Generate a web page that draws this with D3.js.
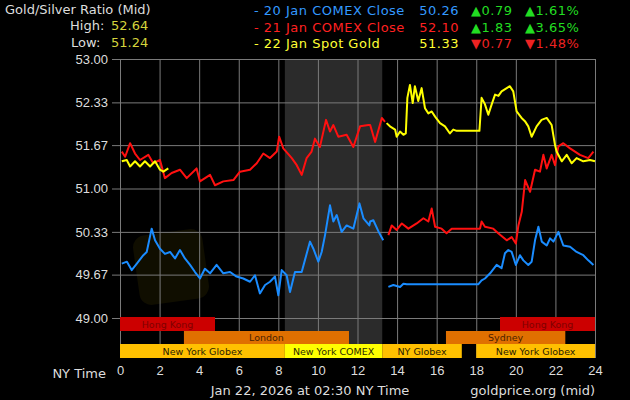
<!DOCTYPE html>
<html>
<head>
<meta charset="utf-8">
<script src="https://cdn.jsdelivr.net/npm/d3@7"></script>
<style>
  body { margin: 0; background: #000; }
  svg { display: block; font-family: "DejaVu Sans", Verdana, sans-serif; }
</style>
</head>
<body>
<div id="chart"></div>
<script>
// values, [hour, ratio], null = gap
var blueSeries = [[0.09,49.84],[0.35,49.87],[0.59,49.74],[0.85,49.84],[1.18,49.97],[1.35,50.02],[1.6,50.38],[1.77,50.20],[2.02,50.07],[2.27,49.99],[2.53,50.02],[2.78,49.92],[3.03,50.05],[3.28,49.92],[3.54,49.82],[3.79,49.71],[4.04,49.61],[4.29,49.76],[4.55,49.69],[4.88,49.82],[5.22,49.69],[5.56,49.71],[5.89,49.64],[6.23,49.61],[6.57,49.56],[6.82,49.66],[7.07,49.38],[7.33,49.51],[7.58,49.56],[7.83,49.64],[8.0,49.35],[8.17,49.74],[8.42,49.66],[8.59,49.40],[8.84,49.71],[9.18,49.71],[9.34,49.89],[9.6,50.18],[9.77,50.07],[10.02,49.87],[10.19,50.02],[10.36,50.28],[10.61,50.74],[10.78,50.49],[10.95,50.59],[11.2,50.33],[11.45,50.43],[11.79,50.38],[12.1,50.77],[12.3,50.54],[12.6,50.43],[12.64,50.49],[12.8,50.51],[13.07,50.33],[13.3,50.20],
  null,
  [13.56,49.48],[13.81,49.51],[14.15,49.48],[14.32,49.53],[14.49,49.52],[18.1,49.52],[18.27,49.58],[18.44,49.61],[18.7,49.69],[19.03,49.82],[19.28,49.77],[19.45,50.00],[19.62,50.05],[19.79,50.02],[20.0,49.82],[20.21,49.97],[20.38,49.89],[20.63,49.82],[20.8,49.87],[20.97,50.20],[21.14,50.41],[21.31,50.18],[21.56,50.12],[21.73,50.23],[21.9,50.18],[22.15,50.33],[22.4,50.12],[22.74,50.10],[23.07,50.02],[23.41,49.97],[23.66,49.89],[23.92,49.82]];

var redSeries = [[0.09,51.57],[0.26,51.49],[0.51,51.70],[0.76,51.54],[1.01,51.44],[1.43,51.52],[1.68,51.39],[2.02,51.44],[2.27,51.16],[2.61,51.24],[3.03,51.29],[3.37,51.16],[3.87,51.31],[4.04,51.11],[4.55,51.21],[4.8,51.05],[5.22,51.11],[5.73,51.13],[6.06,51.26],[6.57,51.29],[6.91,51.39],[7.24,51.54],[7.58,51.47],[7.92,51.57],[8.04,51.80],[8.25,51.62],[8.68,51.47],[8.93,51.36],[9.18,51.21],[9.43,51.47],[9.68,51.57],[9.85,51.77],[10.1,51.64],[10.41,52.06],[10.61,51.88],[10.78,51.98],[11.03,51.80],[11.45,51.83],[11.79,51.64],[12.13,51.96],[12.55,51.98],[12.64,51.98],[12.89,51.72],[13.23,52.09],[13.39,52.03],
  null,
  [13.56,50.28],[13.73,50.43],[13.98,50.36],[14.24,50.46],[14.57,50.38],[14.99,50.46],[15.33,50.54],[15.58,50.49],[15.75,50.69],[15.92,50.41],[16.25,50.38],[16.5,50.31],[16.76,50.38],[18.19,50.38],[18.27,50.49],[18.44,50.41],[18.86,50.38],[19.11,50.31],[19.54,50.20],[19.79,50.25],[20.0,50.15],[20.13,50.43],[20.3,50.64],[20.47,51.13],[20.72,50.95],[20.97,51.29],[21.22,51.26],[21.39,51.52],[21.56,51.31],[21.81,51.52],[21.98,51.36],[22.15,51.65],[22.4,51.70],[22.74,51.62],[23.24,51.52],[23.66,51.47],[23.92,51.57]];

var yellowSeries = [[0.09,51.42],[0.34,51.44],[0.51,51.34],[0.76,51.42],[1.01,51.34],[1.26,51.42],[1.52,51.34],[1.77,51.42],[2.02,51.29],[2.19,51.26],[2.44,51.31],
  null,
  [13.47,52.01],[13.64,51.96],[13.9,51.91],[13.98,51.80],[14.15,51.88],[14.32,51.83],[14.44,51.85],[14.52,52.40],[14.65,52.60],[14.79,52.32],[14.9,52.58],[15.07,52.35],[15.24,52.55],[15.41,52.24],[15.58,52.16],[15.75,52.19],[15.92,52.11],[16.17,52.01],[16.42,51.96],[16.67,51.85],[16.84,51.91],[17.01,51.89],[18.16,51.89],[18.27,52.40],[18.44,52.30],[18.61,52.14],[18.78,52.30],[18.95,52.45],[19.12,52.43],[19.28,52.50],[19.54,52.55],[19.7,52.58],[19.87,52.50],[20.04,52.19],[20.29,52.09],[20.46,52.04],[20.63,51.96],[20.8,51.80],[21.05,51.96],[21.3,52.06],[21.56,52.09],[21.81,51.98],[21.98,51.67],[22.06,51.57],[22.32,51.42],[22.57,51.52],[22.82,51.39],[23.07,51.47],[23.41,51.42],[23.75,51.44],[24.0,51.42]];

var yTicks = [49.00, 49.67, 50.33, 51.00, 51.67, 52.33, 53.00];
var xTicks = [0, 2, 4, 6, 8, 10, 12, 14, 16, 18, 20, 22, 24];

var comexShade = [8.33, 13.25];

var sessionNames = ["Hong Kong", "Hong Kong", "London", "Sydney", "New York Globex", "New York COMEX", "NY Globex", "New York Globex"];
var sessionStart = [0, 19.2, 3.23, 16.47, 0, 8.33, 13.25, 18.0];
var sessionEnd   = [4.8, 24, 11.57, 22.5, 8.33, 13.25, 17.27, 24];
var sessionRow   = [0, 0, 1, 1, 2, 3, 2, 2];

var legendLabels = ["- 20 Jan COMEX Close", "- 21 Jan COMEX Close", "- 22 Jan Spot Gold"];
var legendValues = ["50.26", "52.10", "51.33"];
var legendChange = ["\u25B20.79", "\u25B21.83", "\u25BC0.77"];
var legendPct    = ["\u25B21.61%", "\u25B23.65%", "\u25BC1.48%"];

var highValue = "52.64";
var lowValue = "51.24";

const W = 630, H = 400;
const svg = d3.select("#chart").append("svg").attr("width", W).attr("height", H);
svg.append("rect").attr("width", W).attr("height", H).attr("fill", "#000");

const x = d3.scaleLinear().domain([0, 24]).range([120, 595]);
const y = d3.scaleLinear().domain([49, 53]).range([318, 59]);
const plotBottom = 358;

// faint watermark logo
svg.append("rect")
  .attr("x", 136).attr("y", 232).attr("width", 70).attr("height", 70).attr("rx", 12)
  .attr("transform", "rotate(-8,171,267)")
  .attr("fill", "#100e00");

// comex shading
svg.append("rect")
  .attr("x", x(comexShade[0])).attr("y", y(53))
  .attr("width", x(comexShade[1]) - x(comexShade[0]))
  .attr("height", plotBottom - y(53))
  .attr("fill", "#2b2b2b");

// y grid + labels
const yAxis = d3.axisLeft(y).tickValues(yTicks).tickFormat(d3.format(".2f"))
  .tickSize(x(24) - 112).tickPadding(4);
const gy = svg.append("g").attr("transform", `translate(${x(24)},0)`).call(yAxis);
gy.select(".domain").remove();
gy.selectAll("line").attr("stroke", "#7a7a7a");
gy.selectAll("text").attr("fill", "#ddd").style("font-size", "13px");

// x grid + labels
const xAxis = d3.axisBottom(x).tickValues(xTicks).tickFormat(d3.format("d"))
  .tickSize(plotBottom - y(53)).tickPadding(8);
const gx = svg.append("g").attr("transform", `translate(0,${y(53)})`).call(xAxis);
gx.select(".domain").remove();
gx.selectAll("line").attr("stroke", "#7a7a7a");
gx.selectAll("text").attr("fill", "#ddd").style("font-size", "13px");

// series
const line = d3.line().defined(d => d !== null).x(d => x(d[0])).y(d => y(d[1]));
[[blueSeries, "#1a8cff"], [redSeries, "#ff1010"], [yellowSeries, "#ffff00"]].forEach(function (s) {
  svg.append("path").datum(s[0])
    .attr("d", line)
    .attr("fill", "none")
    .attr("stroke", s[1])
    .attr("stroke-width", 2)
    .attr("stroke-linejoin", "round");
});

// session bars
const rowY = [317, 331, 344];
const rowH = [14, 13, 14];
const rowFill = ["#cc0000", "#e07000", "#ffc000", "#ffff00"];
const rowText = ["#800000", "#4a1f00", "#2a2000", "#2a2a00"];
sessionNames.forEach(function (name, i) {
  const r = sessionRow[i];
  const ry = rowY[Math.min(r, 2)], rh = rowH[Math.min(r, 2)];
  svg.append("rect")
    .attr("x", x(sessionStart[i])).attr("y", ry)
    .attr("width", x(sessionEnd[i]) - x(sessionStart[i])).attr("height", rh)
    .attr("fill", rowFill[r]);
  svg.append("text")
    .attr("x", (x(sessionStart[i]) + x(sessionEnd[i])) / 2)
    .attr("y", ry + rh / 2 + 3.5)
    .attr("text-anchor", "middle")
    .attr("fill", rowText[r])
    .style("font-size", "9.5px")
    .text(name);
});

// header left
svg.append("text").attr("x", 5).attr("y", 14).attr("fill", "#ddd").style("font-size", "13px").text("Gold/Silver Ratio (Mid)");
svg.append("text").attr("x", 70).attr("y", 30).attr("fill", "#ddd").style("font-size", "13px").text("High:");
svg.append("text").attr("x", 111).attr("y", 30).attr("fill", "#d4d43c").style("font-size", "13px").text(highValue);
svg.append("text").attr("x", 71).attr("y", 47).attr("fill", "#ddd").style("font-size", "13px").text("Low:");
svg.append("text").attr("x", 111).attr("y", 47).attr("fill", "#d4d43c").style("font-size", "13px").text(lowValue);

// legend right
const legColor = ["#3399ff", "#ff2020", "#ffff33"];
legendLabels.forEach(function (lab, i) {
  const ly = 15 + i * 16.7;
  const up = legendChange[i].charAt(0) === "\u25B2";
  const chg = up ? "#22dd22" : "#ee2222";
  const g = svg.append("g").style("font-size", "13px").style("letter-spacing", "0.5px");
  g.append("text").attr("x", 254).attr("y", ly).attr("fill", legColor[i]).text(lab);
  g.append("text").attr("x", 459).attr("y", ly).attr("text-anchor", "end").attr("fill", legColor[i]).text(legendValues[i]);
  g.append("text").attr("x", 471).attr("y", ly).attr("fill", chg).text(legendChange[i]);
  g.append("text").attr("x", 525).attr("y", ly).attr("fill", chg).text(legendPct[i]);
});

// bottom texts
svg.append("text").attr("x", 106).attr("y", 378).attr("text-anchor", "end").attr("fill", "#ddd").style("font-size", "13px").text("NY Time");
svg.append("text").attr("x", 310).attr("y", 395).attr("text-anchor", "middle").attr("fill", "#ddd").style("font-size", "13px").text("Jan 22, 2026 at 02:30 NY Time");
svg.append("text").attr("x", 595).attr("y", 395).attr("text-anchor", "end").attr("fill", "#ddd").style("font-size", "13px").text("goldprice.org (mid)");
</script>
</body>
</html>
